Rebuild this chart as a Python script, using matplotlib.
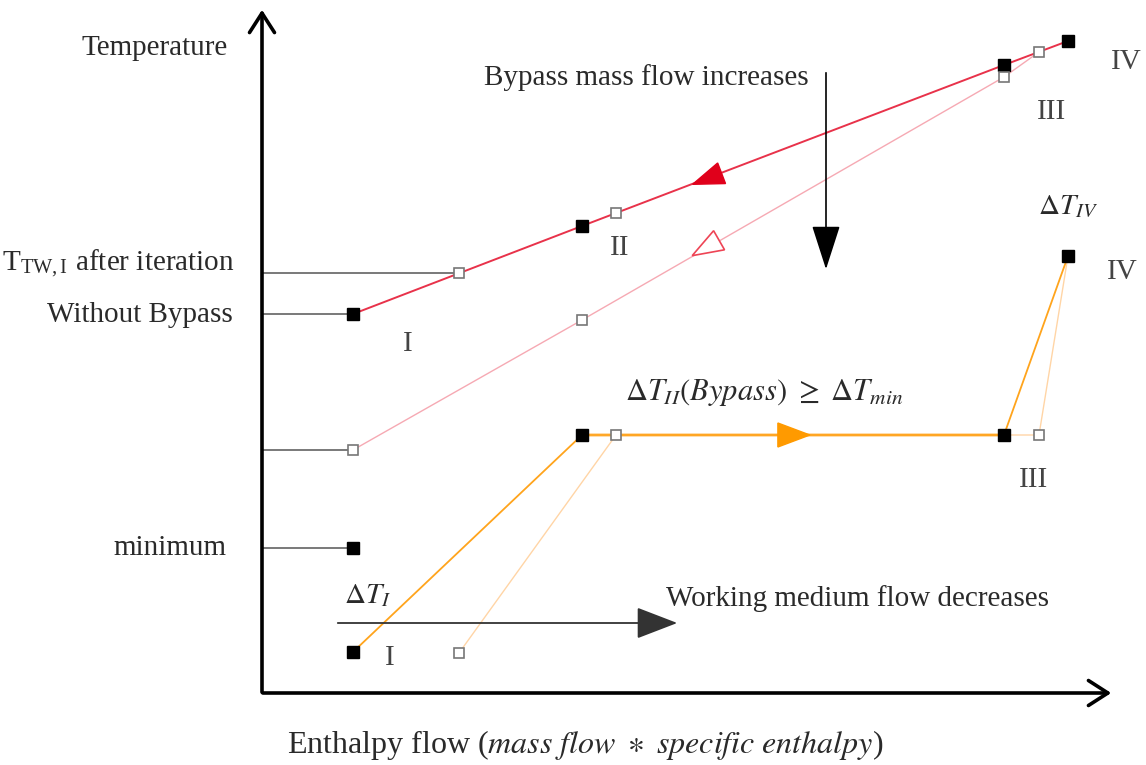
import numpy as np
import matplotlib.pyplot as plt
from matplotlib.patches import Polygon

plt.rcParams['font.family'] = ['Liberation Serif', 'DejaVu Serif']
plt.rcParams['mathtext.fontset'] = 'stix'

# schematic data (enthalpy flow x, temperature y), arbitrary units
hot_x = [91, 320, 742, 806]          # hot medium without bypass (I..IV)
hot_y = [379, 467, 628, 652]
hot_open_x = [197, 354, 777]         # hot medium after iteration
hot_open_y = [420, 480, 641]
byp_x = [91, 320, 742, 777]          # hot medium with bypass
byp_y = [243, 373, 616, 641]
cold_x = [91, 320, 742, 806]         # working medium
cold_y = [41, 258, 258, 437]
cold_open_x = [197, 354, 777, 806]
cold_open_y = [40, 258, 258, 437]
min_x, min_y = 91, 145

ref_y = [420, 379, 243, 145]         # reference levels on temperature axis
ref_end = [197, 91, 91, 91]

RED = '#e8324a'
LRED = '#f6a9b3'
ORANGE = '#ffa41c'
LORANGE = '#ffd5a6'
GREY = '#555555'
TXT = '#2a2a2a'


def arrowhead(ax, p0, p1, t, length=31, width=22, **kw):
    '''triangle with its tip at fraction t of segment p0->p1, pointing to p0'''
    p0, p1 = np.asarray(p0, float), np.asarray(p1, float)
    d = (p1 - p0) / np.hypot(*(p1 - p0))
    n = np.array([-d[1], d[0]])
    tip = p0 + t * (p1 - p0)
    back = tip + d * length
    pts = [tip, back + n * width / 2, back - n * width / 2]
    ax.add_patch(Polygon(pts, closed=True, zorder=5, **kw))


def main():
    fig = plt.figure(figsize=(11.46, 7.65), dpi=100)
    ax = fig.add_axes([0, 0, 1, 1])
    ax.set_xlim(-262, 884)
    ax.set_ylim(-72, 693)
    ax.axis('off')

    # axes with arrows
    ax.annotate('', xy=(0, 686), xytext=(0, -2),
                arrowprops=dict(arrowstyle='->,head_length=0.7,head_width=0.45',
                                lw=2.6, color='black', mutation_scale=20))
    ax.annotate('', xy=(852, 0), xytext=(-2, 0),
                arrowprops=dict(arrowstyle='->,head_length=0.7,head_width=0.45',
                                lw=2.6, color='black', mutation_scale=20))

    # reference lines
    for y, xe in zip(ref_y, ref_end):
        ax.plot([0, xe], [y, y], color=GREY, lw=1.1, zorder=2)

    # lines
    ax.plot(byp_x, byp_y, color=LRED, lw=1.0, zorder=3)
    ax.plot(hot_x, hot_y, color=RED, lw=1.4, zorder=3)
    ax.plot(cold_open_x, cold_open_y, color=LORANGE, lw=1.0, zorder=3)
    ax.plot(cold_x, cold_y, color=ORANGE, lw=1.3, zorder=3)
    ax.plot(cold_x[1:3], cold_y[1:3], color=ORANGE, lw=2.6, alpha=0.45, zorder=3)

    # flow direction heads
    arrowhead(ax, (hot_x[0], hot_y[0]), (hot_x[-1], hot_y[-1]), 0.475,
              facecolor='#e0001b', edgecolor='#e0001b')
    arrowhead(ax, (byp_x[0], byp_y[0]), (byp_x[2], byp_y[2]), 0.521,
              facecolor='white', edgecolor='#ee4455', lw=1.2)
    arrowhead(ax, (cold_x[2], cold_y[2]), (cold_x[1], cold_y[1]), 0.46,
              length=32, width=24, facecolor='#ff9a00', edgecolor='#ff9a00')

    # squares
    ax.plot(hot_x, hot_y, 's', ms=8, color='black', zorder=6)
    ax.plot(cold_x, cold_y, 's', ms=8, color='black', zorder=6)
    ax.plot(min_x, min_y, 's', ms=8, color='black', zorder=6)
    ax.plot(hot_open_x + byp_x[:3], hot_open_y + byp_y[:3],
            's', ms=7, mfc='white', mec='#777777', mew=1.2, zorder=6)
    ax.plot(cold_open_x[:3], cold_open_y[:3], 's', ms=7, mfc='white',
            mec='#777777', mew=1.2, zorder=6)

    # trend arrows
    ax.annotate('', xy=(564, 421), xytext=(564, 623),
                arrowprops=dict(arrowstyle='-|>,head_length=1.4,head_width=0.45',
                                lw=1.2, color='black', mutation_scale=20))
    ax.annotate('', xy=(418, 70), xytext=(73, 70),
                arrowprops=dict(arrowstyle='-|>,head_length=1.3,head_width=0.5',
                                lw=1.3, color='#333333', mutation_scale=20))

    fs = 21
    # axis labels
    ax.text(-34, 645, 'Temperature', ha='right', va='center', fontsize=fs, color=TXT)
    ax.text(-27, 429, r'T$_\mathregular{TW,I}$ after iteration', ha='right',
            va='center', fontsize=fs, color=TXT)
    ax.text(-29, 378, 'Without Bypass', ha='right', va='center', fontsize=fs, color=TXT)
    ax.text(-36, 145, 'minimum', ha='right', va='center', fontsize=fs, color=TXT)
    ax.text(323, -52, r'Enthalpy flow ($mass\ flow\ \ast\ specific\ enthalpy$)',
            ha='center', va='center', fontsize=fs + 2, color=TXT)

    ax.text(384, 615, 'Bypass mass flow increases', ha='center', va='center',
            fontsize=fs, color=TXT)
    ax.text(595, 94, 'Working medium flow decreases', ha='center', va='center',
            fontsize=fs, color=TXT)
    ax.text(502, 301, r'$\Delta T_{II}(Bypass)\ \geq\ \Delta T_{min}$', ha='center',
            va='center', fontsize=fs + 1, color=TXT)
    ax.text(806, 487, r'$\Delta T_{IV}$', ha='center', va='center', fontsize=fs, color=TXT)
    ax.text(106, 97, r'$\Delta T_{I}$', ha='center', va='center', fontsize=fs, color=TXT)

    # stage numerals
    for x, y, s in [(146, 349, 'I'), (358, 445, 'II'), (790, 581, 'III'),
                    (864, 631, 'IV'), (860, 421, 'IV'), (772, 213, 'III'),
                    (128, 35, 'I')]:
        ax.text(x, y, s, ha='center', va='center', fontsize=fs, color='#444444')

    fig.savefig('out.png', dpi=100)


if __name__ == '__main__':
    main()
